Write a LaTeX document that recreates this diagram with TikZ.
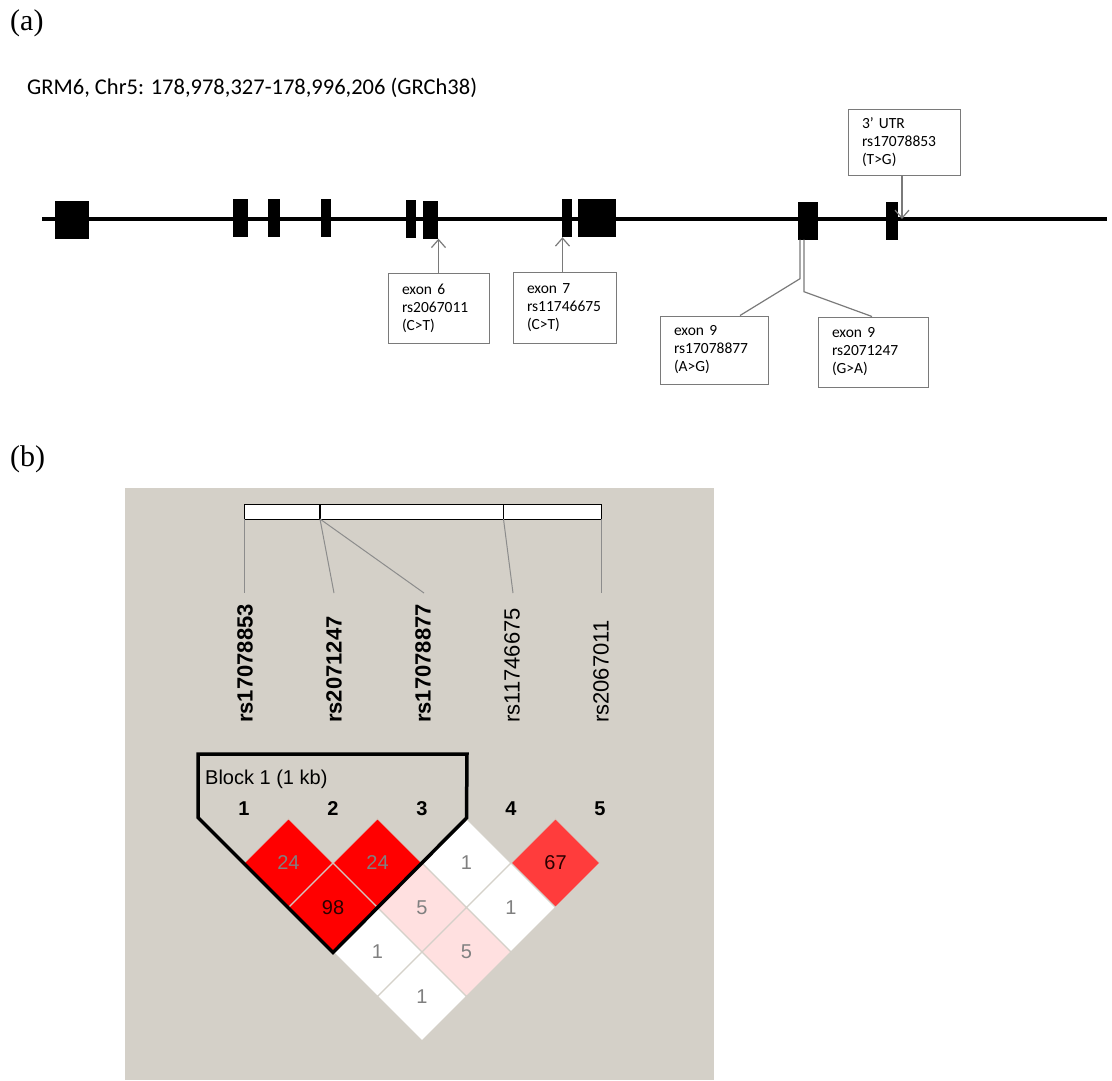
\documentclass[tikz,border=0pt]{standalone}
\usepackage{fontspec}
\setmainfont{Liberation Serif}
\newfontfamily\calibrifont{Carlito}
\newfontfamily\arialfont{Liberation Sans}
\usetikzlibrary{arrows.meta,positioning,calc,shapes.geometric}
\definecolor{haploGray}{HTML}{D4D0C8}
\definecolor{ldRed}{HTML}{FF0000}
\definecolor{ldMid}{HTML}{FF3C3C}
\definecolor{ldPink}{HTML}{FFE0E0}
\definecolor{snpGray}{HTML}{7A7A7A}
\definecolor{tickGray}{HTML}{8C8C8C}
\definecolor{numGray}{HTML}{808080}
\definecolor{numDark}{HTML}{2A0000}

\begin{document}
\begin{tikzpicture}[x=1pt,y=-1pt,
    exon/.style={fill=black,inner sep=0pt,minimum height=38pt},
    snpbox/.style={draw=snpGray,line width=1pt,align=left,inner xsep=14pt,
                   inner ysep=0pt,font={\calibrifont\fontsize{15.5}{18}\selectfont}},
    snparrow/.style={draw=snpGray,line width=1.2pt,-{Straight Barb[length=8pt,width=14pt]}},
    snpline/.style={draw=snpGray,line width=1.2pt},
    ldcell/.style={shape=diamond,minimum width=89pt,minimum height=89pt,inner sep=0pt,
                   draw=haploGray,line width=1pt,font={\arialfont\fontsize{20}{22}\selectfont}},
    ldnum/.style={font={\arialfont\bfseries\fontsize{20}{22}\selectfont}},
    rsname/.style={rotate=90,anchor=west,inner sep=0pt,font={\arialfont\fontsize{22}{24}\selectfont}}]
  \useasboundingbox (0,0) rectangle (1112,1080);

  % (a) gene structure
  \node[anchor=west,inner sep=0pt,font=\fontsize{30}{32}\selectfont] (labA) at (10,23) {(a)};
  \node[anchor=west,inner sep=0pt,font={\calibrifont\fontsize{22.5}{26}\selectfont}] (title) at (27,88)
    {GRM6, Chr5: 178,978,327-178,996,206 (GRCh38)};

  \coordinate (gstart) at (42,219);
  \coordinate (gend) at (1107,219);
  \draw[line width=4pt] (gstart) -- (gend);

  \node[exon,minimum width=34pt] (e1) at (72,220) {};
  \node[exon,minimum width=15pt] (e2) at (240.5,218) {};
  \node[exon,minimum width=12pt] (e3) at (274,218) {};
  \node[exon,minimum width=10pt] (e4) at (326,218) {};
  \node[exon,minimum width=10pt] (e5) at (411,219) {};
  \node[exon,minimum width=15pt] (e6) at (430.5,219.5) {};
  \node[exon,minimum width=10pt] (e7) at (566.5,218) {};
  \node[exon,minimum width=38pt] (e8) at (597,218) {};
  \node[exon,minimum width=20pt] (e9) at (808,220.5) {};
  \node[exon,minimum width=12pt] (e10) at (892,220.5) {};

  \node[snpbox,minimum width=112pt,minimum height=66pt,text width=84pt] (butr) at (904,142)
    {3’ UTR\\rs17078853\\(T>G)};
  \node[snpbox,minimum width=101pt,minimum height=70pt,text width=73pt] (b6) at (438.5,308)
    {exon 6\\rs2067011\\(C>T)};
  \node[snpbox,minimum width=103pt,minimum height=71pt,text width=75pt] (b7) at (564.5,307.5)
    {exon 7\\rs11746675\\(C>T)};
  \node[snpbox,minimum width=108pt,minimum height=68pt,text width=80pt] (b9a) at (714,350)
    {exon 9\\rs17078877\\(A>G)};
  \node[snpbox,minimum width=110pt,minimum height=70pt,text width=82pt] (b9b) at (873,352)
    {exon 9\\rs2071247\\(G>A)};

  \draw[snparrow] (b6.north) -- (b6.north |- e6.south);
  \draw[snparrow] ([xshift=-2pt]b7.north) -- ([xshift=-2pt]b7.north |- e7.south);
  \draw[snparrow] ([xshift=-2pt]butr.south) -- ([xshift=-2pt]butr.south |- gstart);
  \draw[snpline] ([xshift=-8pt]e9.south) -- ++(0,39) -- ([xshift=26pt]b9a.north);
  \draw[snpline] ([xshift=-4pt]e9.south) -- ++(0,52) -- ([xshift=-1pt]b9b.north);

  % (b) LD plot
  \node[anchor=west,inner sep=0pt,font=\fontsize{30}{32}\selectfont] (labB) at (10,459) {(b)};
  \fill[haploGray] (125,488) rectangle (714,1080);

  \node[draw,fill=white,line width=1pt,inner sep=0pt,minimum width=357pt,minimum height=15pt]
    (bar) at (422.5,511.5) {};
  \draw[line width=2.2pt] (320,504) -- (320,519);
  \draw[line width=1pt] (503.5,504) -- (503.5,519);

  \foreach \k/\mx/\tx in {1/244/244, 2/320/334, 3/320/424, 4/503.5/513, 5/601/601} {
    \coordinate (m\k) at (\mx,519);
    \coordinate (t\k) at (\tx,593);
    \draw[tickGray,line width=1pt] (m\k) -- (t\k);
  }

  \foreach \k/\rs/\wt in {1/rs17078853/\bfseries, 2/rs2071247/\bfseries, 3/rs17078877/\bfseries,
                          4/rs11746675/, 5/rs2067011/} {
    \node[rsname] (l\k) at ({245+89*(\k-1)},723) {\wt\rs};
    \node[ldnum] (n\k) at ({244+89*(\k-1)},809) {\k};
  }

  \foreach \i/\j/\cfill/\tcol/\val in {1/2/ldRed/numGray/24, 2/3/ldRed/numGray/24, 3/4/white/numGray/1,
      4/5/ldMid/numDark/67, 1/3/ldRed/numDark/98, 2/4/ldPink/numGray/5, 3/5/white/numGray/1,
      1/4/white/numGray/1, 2/5/ldPink/numGray/5, 1/5/white/numGray/1} {
    \node[ldcell,fill=\cfill,text=\tcol] (c\i\j) at ({244+44.5*(\i+\j-2)},{863+44.5*(\j-\i-1)}) {\val};
  }

  % block outline
  \draw[line width=3.5pt,line join=miter] (198,754) -- (467,754) -- (c34.north) -- (c13.south)
    -- (c12.west) -- (198,817.5) -- cycle;
  \node[anchor=west,inner sep=0pt,font={\arialfont\fontsize{20}{22}\selectfont}] (blk) at (205,779)
    {Block 1 (1 kb)};
\end{tikzpicture}
\end{document}
